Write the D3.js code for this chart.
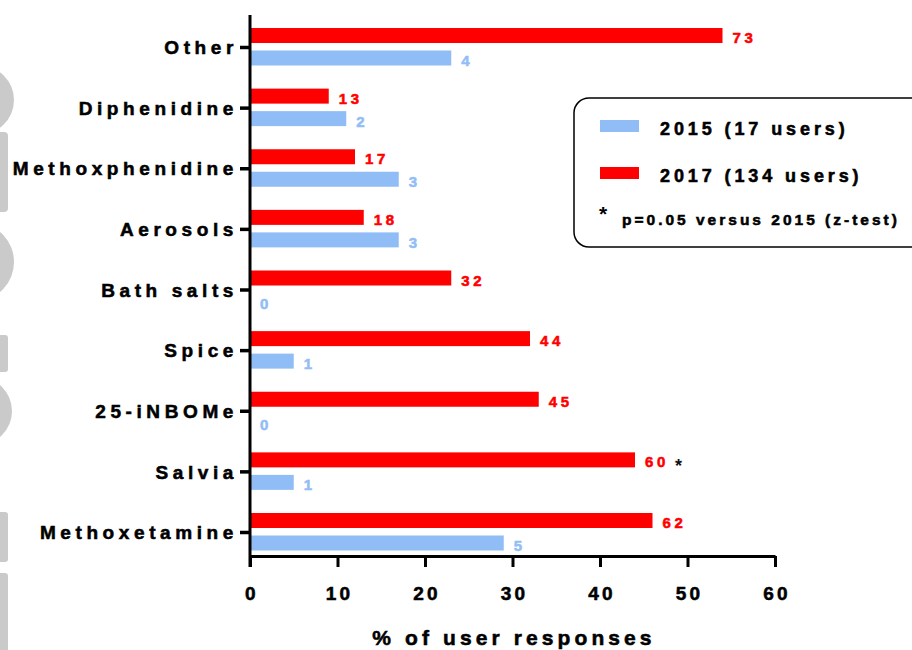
<!DOCTYPE html>
<html>
<head>
<meta charset="utf-8">
<script src="https://cdn.jsdelivr.net/npm/d3@7"></script>
<style>
  html, body { margin: 0; padding: 0; background: #fff; }
  svg { display: block; }
  text { font-family: "Liberation Sans", Arial, Helvetica, sans-serif; font-weight: bold; }
  text.heavy { stroke: currentColor; stroke-width: 0.55px; paint-order: stroke; }
</style>
</head>
<body>
<svg id="chart" width="912" height="650"></svg>
<script>
// Substances, top to bottom
const categories = ["Other", "Diphenidine", "Methoxphenidine", "Aerosols", "Bath salts",
                    "Spice", "25-iNBOMe", "Salvia", "Methoxetamine"];
// Share of user responses (%)
const pct2017 = [54, 9, 12, 13, 23, 32, 33, 44, 46];
const pct2015 = [23, 11, 17, 17, 0, 5, 0, 5, 29];
// Number of users behind each bar
const count2017 = [73, 13, 17, 18, 32, 44, 45, 60, 62];
const count2015 = [4, 2, 3, 3, 0, 1, 0, 1, 5];
// Substances flagged by the z-test
const significant = ["Salvia"];
const xTicks = [0, 10, 20, 30, 40, 50, 60];
const seriesLabels = ["2015 (17 users)", "2017 (134 users)"];
const noteLabel = "p=0.05 versus 2015 (z-test)";
const xTitle = "% of user responses";

const RED = "#ff0000";
const BLUE = "#90bdf6";
const BLUE_TEXT = "#93bef5";

const svg = d3.select("#chart");

// faint grey lettering bleeding in from the left edge
const wm = svg.append("g").attr("fill", "#cacaca");
wm.append("ellipse").attr("cx", -22).attr("cy", 100).attr("rx", 36).attr("ry", 35);
wm.append("rect").attr("x", -10).attr("y", 132).attr("width", 18).attr("height", 80).attr("rx", 4);
wm.append("ellipse").attr("cx", -22).attr("cy", 262).attr("rx", 36).attr("ry", 38);
wm.append("rect").attr("x", -10).attr("y", 335).attr("width", 18).attr("height", 37).attr("rx", 3);
wm.append("ellipse").attr("cx", -22).attr("cy", 411).attr("rx", 34).attr("ry", 34);
wm.append("rect").attr("x", -10).attr("y", 512).attr("width", 18).attr("height", 50).attr("rx", 3);
wm.append("rect").attr("x", -10).attr("y", 573).attr("width", 18).attr("height", 90).attr("rx", 3);

const x = d3.scaleLinear().domain([0, 60]).range([250, 775]);
const y = d3.scalePoint().domain(categories).range([47, 532]);

const rows = categories.map((c, i) => ({
  cat: c, p17: pct2017[i], p15: pct2015[i], n17: count2017[i], n15: count2015[i]
}));

// bars
const barH = 15;
svg.append("g").selectAll("rect").data(rows).join("rect")
  .attr("x", x(0)).attr("y", d => y(d.cat) - 19)
  .attr("width", d => x(d.p17) - x(0)).attr("height", barH)
  .attr("fill", RED);
svg.append("g").selectAll("rect").data(rows).join("rect")
  .attr("x", x(0)).attr("y", d => y(d.cat) + 3.5)
  .attr("width", d => x(d.p15) - x(0)).attr("height", barH)
  .attr("fill", BLUE);

// value labels (user counts)
svg.append("g").selectAll("text").data(rows).join("text")
  .attr("class", "heavy")
  .attr("x", d => x(d.p17) + 10).attr("y", d => y(d.cat) - 4)
  .attr("font-size", 15).attr("letter-spacing", 3.6)
  .attr("fill", RED).style("color", RED).text(d => d.n17);
svg.append("g").selectAll("text").data(rows).join("text")
  .attr("class", "heavy")
  .attr("x", d => x(d.p15) + 10).attr("y", d => y(d.cat) + 19)
  .attr("font-size", 15).attr("letter-spacing", 3.6)
  .attr("fill", BLUE_TEXT).style("color", BLUE_TEXT).text(d => d.n15);

// significance marker
svg.append("g").selectAll("text").data(rows.filter(d => significant.includes(d.cat))).join("text")
  .attr("x", d => x(d.p17) + 40).attr("y", d => y(d.cat) + 1)
  .attr("font-size", 18).attr("fill", "#111").text("*");

// y axis
const yAxis = svg.append("g").attr("transform", "translate(250,0)")
  .call(d3.axisLeft(y).tickSize(10).tickSizeOuter(0).tickPadding(0));
yAxis.attr("font-family", null).attr("font-size", null);
yAxis.select(".domain").remove();
yAxis.selectAll(".tick line").attr("stroke", "#000").attr("stroke-width", 3.5);
yAxis.selectAll(".tick text")
  .attr("class", "heavy")
  .attr("x", -12).attr("dy", "0.35em")
  .attr("font-size", 19).attr("letter-spacing", 4.6)
  .attr("fill", "#000").style("color", "#000");
svg.append("line").attr("x1", 250).attr("x2", 250).attr("y1", 15).attr("y2", 567)
  .attr("stroke", "#000").attr("stroke-width", 3);

// x axis
const xAxis = svg.append("g").attr("transform", "translate(0,556)")
  .call(d3.axisBottom(x).tickValues(xTicks).tickSize(11).tickSizeOuter(0));
xAxis.attr("font-family", null).attr("font-size", null);
xAxis.select(".domain").attr("stroke", "#000").attr("stroke-width", 3);
xAxis.selectAll(".tick line").attr("stroke", "#000").attr("stroke-width", 3);
xAxis.selectAll(".tick text")
  .attr("class", "heavy")
  .attr("y", 44).attr("dy", 0).attr("dx", 1.5)
  .attr("font-size", 19).attr("letter-spacing", 3.2)
  .attr("fill", "#000").style("color", "#000");

svg.append("text").attr("class", "heavy").attr("x", 514).attr("y", 645)
  .attr("text-anchor", "middle").attr("font-size", 21).attr("letter-spacing", 4.1)
  .attr("fill", "#000").style("color", "#000").text(xTitle);

// legend
const lg = svg.append("g");
lg.append("rect").attr("x", 574).attr("y", 98).attr("width", 360).attr("height", 149)
  .attr("rx", 15).attr("fill", "#fff").attr("stroke", "#000").attr("stroke-width", 1.5);
[BLUE, RED].forEach((col, i) => {
  lg.append("rect").attr("x", 600).attr("y", 120 + i * 47).attr("width", 39).attr("height", 12)
    .attr("fill", col);
  lg.append("text").attr("class", "heavy").attr("x", 660).attr("y", 135 + i * 47)
    .attr("font-size", 18).attr("letter-spacing", 3.9).attr("fill", "#000").style("color", "#000")
    .text(seriesLabels[i]);
});
lg.append("text").attr("x", 599).attr("y", 221).attr("font-size", 21).attr("fill", "#000").text("*");
lg.append("text").attr("class", "heavy").attr("x", 622).attr("y", 225)
  .attr("font-size", 15.5).attr("letter-spacing", 3).attr("fill", "#000").style("color", "#000")
  .text(noteLabel);
</script>
</body>
</html>
